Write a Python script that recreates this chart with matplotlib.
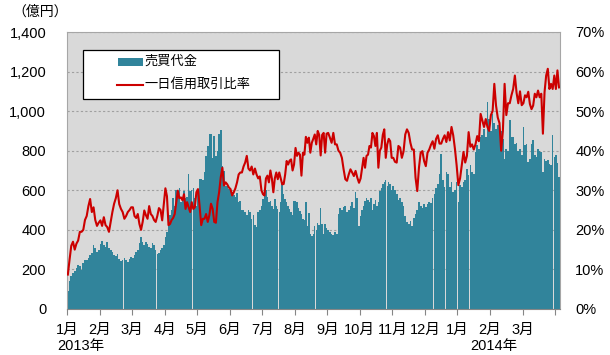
import numpy as np
import matplotlib
matplotlib.use("Agg")
import matplotlib.pyplot as plt
from matplotlib.patches import Rectangle
from matplotlib.lines import Line2D
from matplotlib.ticker import FuncFormatter

plt.rcParams['font.family'] = ['Liberation Sans', 'Noto Sans CJK JP']

# months on the axis: Jan 2013 .. Mar 2014 (+ a few days of Apr 2014)
month_labels = ['1月', '2月', '3月', '4月', '5月', '6月', '7月', '8月', '9月',
                '10月', '11月', '12月', '1月', '2月', '3月', '']
days_per_month = [19, 19, 20, 21, 20, 20, 22, 22, 19, 22, 19, 19, 19, 19, 20, 3]

# 売買代金 (億円), daily
trade_value = [
    # 2013/1
    92, 140, 165, 182, 190, 207, 223, 215, 195, 232, 248, 250, 260, 275, 285, 325, 310, 290, 300,
    # 2
    330, 345, 325, 315, 340, 310, 300, 290, 275, 270, 280, 255, 245, 250, 260, 248, 240, 255, 262,
    # 3
    257, 273, 290, 300, 332, 365, 340, 323, 340, 330, 315, 307, 332, 323, 298, 280, 282, 298, 307, 323,
    # 4
    365, 390, 430, 475, 500, 560, 520, 600, 575, 610, 540, 545, 598, 560, 565, 682, 598, 600, 610, 560, 523,
    # 5
    600, 657, 657, 650, 690, 773, 823, 882, 882, 765, 873, 773, 800, 882, 903, 723, 700, 623, 623, 607,
    # 6
    607, 590, 575, 565, 585, 540, 548, 500, 498, 490, 473, 500, 490, 457, 475, 425, 415, 490, 500, 520,
    # 7
    557, 573, 600, 565, 540, 548, 523, 507, 557, 523, 507, 490, 540, 640, 582, 557, 540, 523, 507, 490, 473, 548,
    # 8
    548, 540, 510, 495, 480, 457, 450, 542, 420, 487, 378, 370, 380, 420, 400, 437, 425, 512, 430, 380, 428, 410,
    # 9
    400, 390, 380, 375, 390, 380, 480, 510, 500, 515, 520, 490, 500, 520, 540, 510, 590, 560, 420,
    # 10
    470, 500, 520, 545, 560, 550, 540, 560, 500, 530, 550, 520, 540, 597, 610, 630, 640, 650, 620, 640, 630, 600,
    # 11
    620, 600, 580, 550, 560, 540, 520, 470, 440, 430, 445, 420, 460, 480, 500, 540, 520, 510, 530,
    # 12
    513, 530, 540, 538, 563, 580, 613, 630, 681, 785, 650, 617, 692, 684, 617, 642, 592, 600, 640,
    # 2014/1
    540, 625, 617, 642, 650, 709, 676, 726, 690, 680, 793, 827, 810, 869, 877, 911, 869, 1045, 960,
    # 2
    900, 985, 940, 910, 930, 936, 900, 860, 760, 810, 800, 953, 869, 869, 835, 840, 800, 810, 780,
    # 3
    919, 830, 835, 743, 760, 835, 852, 780, 770, 810, 800, 795, 690, 760, 750, 752, 735, 730, 877, 770,
    # 4
    780, 740, 667,
]

# 一日信用取引比率 (%), daily
margin_ratio = [
    # 2013/1
    8.7, 12.5, 16, 17, 15, 16.5, 17.3, 19.5, 19.5, 20, 22.5, 23.5, 26, 27.8, 24.5, 25.7, 22.5, 21, 21.8,
    # 2
    22.4, 21, 23.2, 21.2, 20.7, 19.5, 22, 24.5, 26.6, 28, 30, 26.5, 25.3, 24.5, 22.8, 23.5, 24.5, 25, 25.7,
    # 3
    25.7, 23.5, 23, 24, 21.5, 20, 22, 24.9, 23.7, 22.8, 26, 24, 23.5, 22.5, 22, 23.5, 25.5, 25, 22.4, 26.6,
    # 4
    30.5, 28.5, 21.2, 21.5, 22.5, 23, 24, 27, 29.9, 28, 28.2, 27.5, 29, 25.3, 27, 25.7, 24.5, 27, 25.3, 25.7, 29.5,
    # 5
    30.3, 26, 21.2, 22.8, 22.8, 24, 22, 23.7, 26.6, 25.3, 22, 21.8, 27, 29.5, 33.3, 35.7, 31.2, 32, 31.5, 30.7,
    # 6
    30.3, 28.7, 29.5, 30.5, 32, 34, 34.5, 34.5, 36, 37, 38.7, 35.5, 35, 36, 34, 35.5, 34, 33, 33.5, 30,
    # 7
    29, 28.7, 33, 33.7, 32, 35, 33, 29.5, 33, 34.5, 32.8, 34.5, 33, 31.5, 31.6, 34, 37.4, 36.5, 37.5, 37.8, 35, 36.5,
    # 8
    40.7, 38.7, 39.5, 39, 33.7, 39.5, 39, 43.5, 42, 43.3, 39.5, 42, 43, 44.1, 41.6, 45, 44, 38.8, 44, 44.5, 39.5, 44.3,
    # 9
    44.5, 43.3, 42, 44.5, 41.6, 41.6, 40, 39.5, 38.2, 35.3, 32.8, 32.4, 34, 35.3, 34.5, 33.6, 34.9, 33.2, 31.9,
    # 10
    33, 35.7, 38.2, 35.7, 38.7, 39, 41.2, 40.8, 44.5, 43.7, 41.2, 44.5, 35.7, 40, 40.8, 44, 45.4, 38.2, 41.6, 43, 42.4, 38.2,
    # 11
    38.2, 37.2, 37, 41.2, 40.8, 38.2, 39.8, 44.1, 45.4, 44.5, 42, 40.3, 40.3, 33.2, 29.8, 35.7, 39.5, 39.9, 37.4,
    # 12
    36.1, 39.5, 40.3, 41.5, 42.4, 40.5, 43, 43.9, 41.8, 41.8, 43, 43.9, 42.2, 44.7, 42.6, 46, 43.9, 40.5, 36.3,
    # 2014/1
    31.3, 33, 36.3, 39.7, 37, 38.7, 44.7, 41, 41.6, 40.3, 41.6, 43.7, 42.4, 49.3, 47.6, 46, 48, 46, 45,
    # 2
    49, 50, 56.9, 51.4, 48.4, 47, 40, 45, 56.9, 49, 52, 52, 54, 55.6, 59, 54.6, 52, 55, 51.5,
    # 3
    52, 54, 53.5, 54.9, 51.8, 50.5, 51.4, 54.4, 53.5, 55.2, 53.5, 54.4, 44.3, 54.8, 59, 60.7, 55.6, 56.9, 55.6, 59,
    # 4
    55.6, 60.3, 56,
]

# x position of every trading day: month index + fraction of the month
xs = []
widths = []
for m, n in enumerate(days_per_month):
    slot = 1.0 / (n if n > 5 else 21)
    for i in range(n):
        xs.append(m + (i + 0.5) * slot)
        widths.append(slot * 0.97)
xs = np.array(xs)

fig = plt.figure(figsize=(6.10, 3.55), dpi=100)
ax = fig.add_axes([67 / 610, 1 - 309 / 355, 493 / 610, 277 / 355])
ax.set_facecolor('#d9d9d9')

ax.bar(xs, trade_value, width=widths, color='#31849b', linewidth=0, zorder=2)
ax.set_xlim(0, 15.15)
ax.set_ylim(0, 1400)
ax.set_yticks(range(0, 1401, 200))
ax.yaxis.set_major_formatter(FuncFormatter(lambda v, p: f'{v:,.0f}'))
ax.grid(axis='y', color='#a0a0a0', linestyle=(0, (2, 2)), linewidth=0.8, zorder=1)
ax.set_axisbelow(True)

ax.set_xticks(range(16))
ax.set_xticklabels(month_labels)
ax.tick_params(axis='x', length=4, color='#868686', pad=6, labelsize=10.5)
ax.tick_params(axis='y', length=0, pad=15, labelsize=10.5)
for s in ax.spines.values():
    s.set_color('#a6a6a6')
    s.set_linewidth(0.8)
ax.spines['bottom'].set_color('#868686')

ax2 = ax.twinx()
ax2.plot(xs, margin_ratio, color='#cc0000', linewidth=1.5, zorder=3)
ax2.set_ylim(0, 70)
ax2.set_yticks(range(0, 71, 10))
ax2.yaxis.set_major_formatter(FuncFormatter(lambda v, p: f'{v:.0f}%'))
ax2.tick_params(axis='y', length=0, pad=11, labelsize=10.5)
for s in ax2.spines.values():
    s.set_visible(False)

# year labels under the month axis
ax.text(0.43, -0.135, '2013年', transform=ax.get_xaxis_transform(),
        ha='center', va='center', fontsize=10.5)
ax.text(13.12, -0.135, '2014年', transform=ax.get_xaxis_transform(),
        ha='center', va='center', fontsize=10.5)

fig.text(40 / 610, 1 - 12 / 355, '（億円）', ha='center', va='center', fontsize=10)

# legend box
tr = ax2.transAxes
ax2.add_patch(Rectangle((0.032, 0.758), 0.398, 0.177, transform=tr,
                        facecolor='white', edgecolor='black', linewidth=0.9, zorder=5))
ax2.add_patch(Rectangle((0.1034, 0.877), 0.0507, 0.029, transform=tr,
                        facecolor='#31849b', linewidth=0, zorder=6))
ax2.add_line(Line2D([0.101, 0.154], [0.809, 0.809], transform=tr,
                    color='#cc0000', linewidth=1.5, zorder=6))
ax2.text(0.158, 0.893, '売買代金', transform=tr, ha='left', va='center',
         fontsize=9.5, zorder=7)
ax2.text(0.158, 0.810, '一日信用取引比率', transform=tr, ha='left', va='center',
         fontsize=9.5, zorder=7)

fig.savefig('out.png', dpi=100)
